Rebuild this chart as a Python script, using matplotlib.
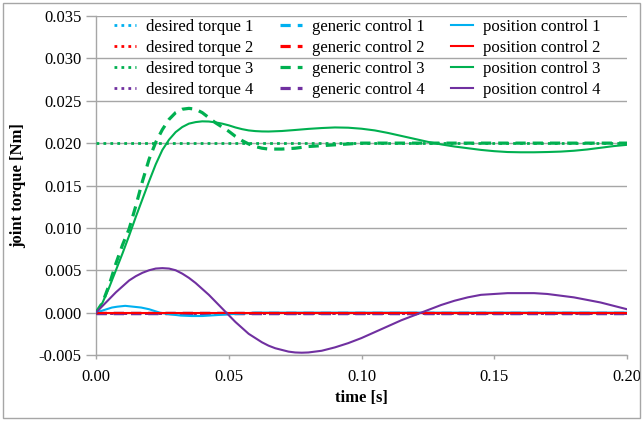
import matplotlib
matplotlib.use("Agg")
import matplotlib.pyplot as plt
from matplotlib.patches import Rectangle
from matplotlib.ticker import FormatStrFormatter, MultipleLocator

# ---------------- data ----------------
t_full = [0.0, 0.2]
desired_1 = [0.0, 0.0]
desired_2 = [0.0, 0.0]
desired_3 = [0.02, 0.02]
desired_4 = [0.0, 0.0]

generic_zero = [0.0, 0.0]

t_gen3 = [0.0, 0.0025, 0.005, 0.0075, 0.01, 0.0125, 0.015, 0.0175, 0.02, 0.0225,
          0.025, 0.0275, 0.03, 0.0325, 0.035, 0.0375, 0.04, 0.0425, 0.045, 0.0475,
          0.05, 0.0525, 0.055, 0.0575, 0.06, 0.0625, 0.065, 0.07, 0.075, 0.08,
          0.085, 0.09, 0.095, 0.1, 0.105, 0.11, 0.12, 0.13, 0.14, 0.15, 0.16,
          0.17, 0.18, 0.19, 0.2]
generic_3 = [0.0, 0.0012, 0.0033, 0.0058, 0.0080, 0.0099, 0.0126, 0.0155, 0.0181, 0.0201,
             0.0216, 0.0228, 0.0236, 0.0240, 0.0241, 0.0240, 0.0236, 0.0230, 0.0224, 0.0219,
             0.0214, 0.0208, 0.0203, 0.0199, 0.0196, 0.0194, 0.0193, 0.0193, 0.0194, 0.0196,
             0.0197, 0.0198, 0.0199, 0.0200, 0.0200, 0.0200, 0.0200, 0.0200, 0.0200, 0.0200, 0.0200,
             0.0200, 0.0200, 0.0200, 0.0200]

t_pos3 = [0.0, 0.0025, 0.005, 0.0075, 0.01, 0.0125, 0.015, 0.0175, 0.02, 0.0225,
          0.025, 0.0275, 0.03, 0.0325, 0.035, 0.0375, 0.04, 0.0425, 0.045, 0.0475, 0.05,
          0.0525, 0.055, 0.0575, 0.06, 0.0625, 0.065, 0.07, 0.075, 0.08, 0.085, 0.09, 0.095, 0.1,
          0.105, 0.11, 0.115, 0.12, 0.125, 0.13, 0.135, 0.14, 0.145, 0.15,
          0.155, 0.16, 0.165, 0.17, 0.175, 0.18, 0.185, 0.19, 0.195, 0.2]
position_3 = [0.0, 0.0012, 0.0030, 0.0050, 0.0070, 0.0091, 0.0113, 0.0134, 0.0155, 0.0175,
              0.0192, 0.0204, 0.0213, 0.0219, 0.0223, 0.02248, 0.02257, 0.02255, 0.02245, 0.0223, 0.0221,
              0.02185, 0.02165, 0.02150, 0.02142, 0.02138, 0.02137, 0.02143, 0.02155, 0.02168, 0.02178, 0.02185, 0.02182, 0.02170,
              0.02150, 0.02120, 0.02085, 0.02050, 0.02015, 0.01985, 0.01960, 0.01940, 0.01920, 0.01905,
              0.01895, 0.01892, 0.01892, 0.01895, 0.01900, 0.01910, 0.01925, 0.01945, 0.01965, 0.01980]

t_pos4 = [0.0, 0.0025, 0.005, 0.0075, 0.01, 0.0125, 0.015, 0.0175, 0.02, 0.0225,
          0.025, 0.0275, 0.03, 0.0325, 0.035, 0.0375, 0.04, 0.0425, 0.045, 0.0475,
          0.05, 0.0525, 0.055, 0.0575, 0.06, 0.0625, 0.065, 0.0675, 0.07, 0.0725,
          0.075, 0.0775, 0.08, 0.0825, 0.085, 0.0875, 0.09, 0.095, 0.1, 0.105,
          0.11, 0.115, 0.12, 0.125, 0.13, 0.135, 0.14, 0.145, 0.15, 0.155,
          0.16, 0.165, 0.17, 0.175, 0.18, 0.185, 0.19, 0.195, 0.2]
position_4 = [0.0, 0.0008, 0.0016, 0.0024, 0.0031, 0.0038, 0.0043, 0.0047, 0.0050, 0.0052,
              0.00525, 0.0052, 0.0050, 0.0046, 0.0041, 0.0035, 0.0028, 0.0021, 0.0013, 0.0005,
              -0.0003, -0.0011, -0.0018, -0.0025, -0.0030, -0.0035, -0.0039, -0.0042, -0.0044, -0.0046,
              -0.0047, -0.00473, -0.0047, -0.0046, -0.0045, -0.0043, -0.0041, -0.0036, -0.0030, -0.0023,
              -0.0016, -0.0009, -0.0003, 0.0003, 0.0009, 0.0014, 0.0018, 0.0021, 0.0022, 0.0023,
              0.0023, 0.0023, 0.0022, 0.0020, 0.0018, 0.0015, 0.0012, 0.0008, 0.0004]

t_pos1 = [0.0, 0.002, 0.004, 0.006, 0.008, 0.011, 0.014, 0.017, 0.02, 0.024, 0.028, 0.032,
          0.036, 0.04, 0.045, 0.05, 0.055, 0.06, 0.2]
position_1 = [0.0, 0.0002, 0.0004, 0.0006, 0.0007, 0.0008, 0.0007, 0.0006, 0.0004, 0.0000, -0.0002, -0.00035,
              -0.0004, -0.0004, -0.0003, -0.0002, -0.0001, 0.0, 0.0]

position_2 = [0.0, 0.0]

labels_desired = ["desired torque 1", "desired torque 2", "desired torque 3", "desired torque 4"]
labels_generic = ["generic control 1", "generic control 2", "generic control 3", "generic control 4"]
labels_position = ["position control 1", "position control 2", "position control 3", "position control 4"]

colors = ["#00B0F0", "#FF0000", "#00B050", "#7030A0"]

# ---------------- figure ----------------
plt.rcParams['font.family'] = ['Liberation Serif', 'DejaVu Serif']
fs = 12

fig = plt.figure(figsize=(6.42, 4.21), dpi=100)
ax = fig.add_axes([96 / 642, 1 - 355 / 421, (627 - 96) / 642, (355 - 16) / 421])

fig.patches.append(Rectangle((3 / 642, 3 / 421), 637 / 642, 415 / 421, transform=fig.transFigure,
                             fill=False, edgecolor="#A6A6A6", linewidth=1.0))

gray = "#A6A6A6"
dot = (0, (1, 1.5))
dash = (0, (3.2, 2.2))

handles = []
for y, c, lab in zip([desired_1, desired_2, desired_3, desired_4], colors, labels_desired):
    h, = ax.plot(t_full, y, color=c, lw=2.0, linestyle=dot, label=lab, zorder=3)
    handles.append(h)
gen_t = [t_full, t_full, t_gen3, t_full]
gen_y = [generic_zero, generic_zero, generic_3, generic_zero]
for tt, y, c, lab in zip(gen_t, gen_y, colors, labels_generic):
    h, = ax.plot(tt, y, color=c, lw=2.3, linestyle=dash, label=lab, zorder=3)
    handles.append(h)
pos_t = [t_pos1, t_full, t_pos3, t_pos4]
pos_y = [position_1, position_2, position_3, position_4]
for tt, y, c, lab in zip(pos_t, pos_y, colors, labels_position):
    h, = ax.plot(tt, y, color=c, lw=1.5, linestyle="-", label=lab, zorder=3)
    handles.append(h)

ax.set_xlim(0, 0.2)
ax.set_ylim(-0.005, 0.035)
ax.xaxis.set_major_locator(MultipleLocator(0.05))
ax.yaxis.set_major_locator(MultipleLocator(0.005))
ax.xaxis.set_major_formatter(FormatStrFormatter("%.2f"))
ax.yaxis.set_major_formatter(FormatStrFormatter("%.3f"))

ax.grid(axis="y", color=gray, linewidth=1.0, zorder=0)
ax.set_axisbelow(True)
for s in ["top", "right"]:
    ax.spines[s].set_visible(False)
for s in ["left", "bottom"]:
    ax.spines[s].set_color(gray)
    ax.spines[s].set_linewidth(1.0)

ax.tick_params(axis="y", length=7, width=1.0, color=gray, pad=3.5, labelsize=fs)
ax.tick_params(axis="x", length=3, width=1.0, color=gray, pad=7, labelsize=fs)

ax.set_xlabel("time [s]", fontsize=fs, fontweight="bold", labelpad=4)
ax.set_ylabel("joint torque [Nm]", fontsize=fs, fontweight="bold", labelpad=9)

ax.legend(handles=handles, ncol=3, loc="upper left", bbox_to_anchor=(0.022, 1.01),
          frameon=False, fontsize=fs, handlelength=1.3, handletextpad=0.6,
          columnspacing=1.6, labelspacing=0.3, borderaxespad=0.0)

fig.savefig("out.png", dpi=100)
